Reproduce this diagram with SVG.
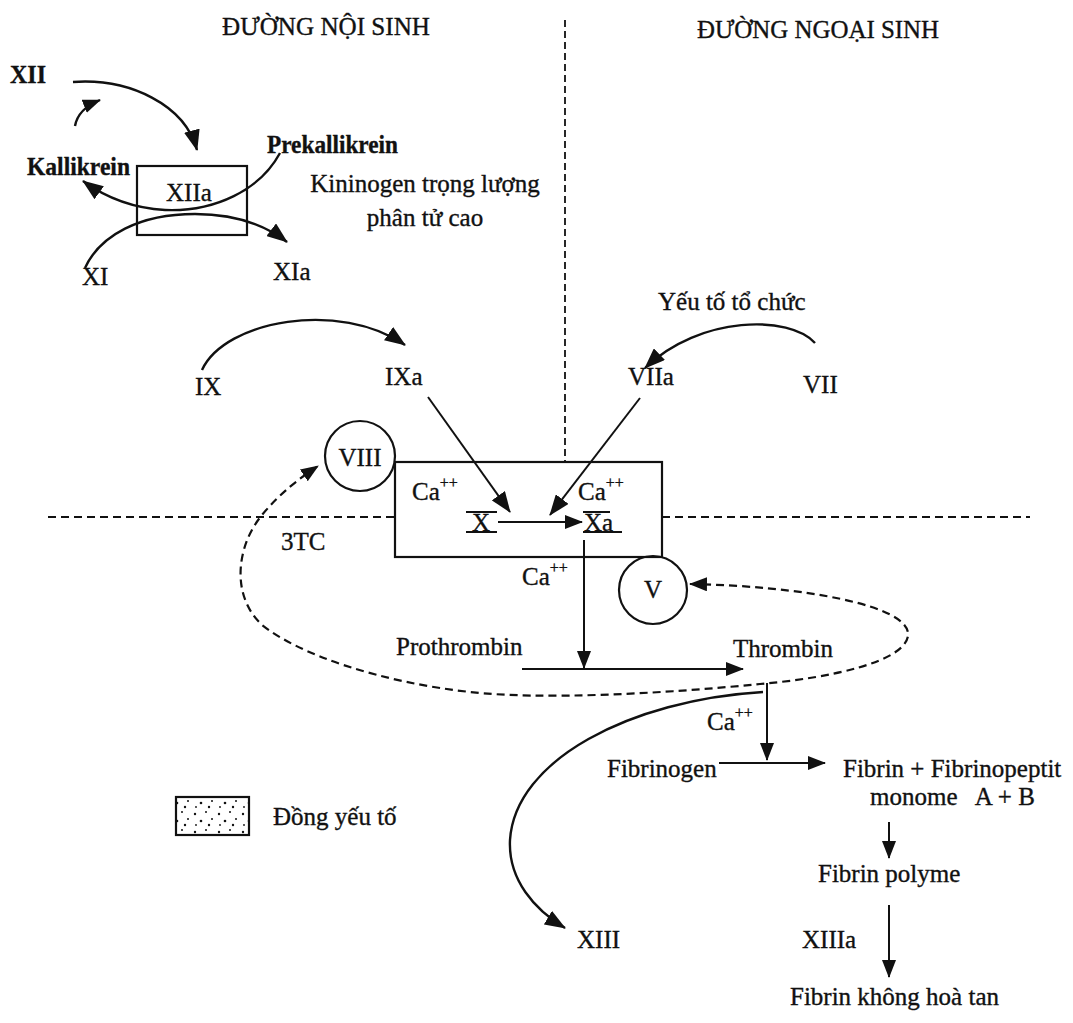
<svg xmlns="http://www.w3.org/2000/svg" width="1073" height="1023" viewBox="0 0 1073 1023">
<style>
text{font-family:"Liberation Serif","Times New Roman",serif;fill:#111;font-size:25px;stroke:#111;stroke-width:0.35}
.b{font-weight:bold}
.sup{font-size:16px}
.ln{stroke:#111;stroke-width:2;fill:none}
.cv{stroke:#111;stroke-width:2.4;fill:none}
.dash{stroke:#111;stroke-width:2.2;fill:none;stroke-dasharray:8 5}
.vdash{stroke:#111;stroke-width:1.8;fill:none;stroke-dasharray:7 4}
.box{stroke:#111;stroke-width:2.2;fill:none}
</style>
<defs>
<marker id="ah" markerUnits="userSpaceOnUse" markerWidth="21" markerHeight="16" refX="20" refY="8" orient="auto-start-reverse"><path d="M0,0 L21,8 L0,16 z" fill="#111"/></marker>
<marker id="ahs" markerUnits="userSpaceOnUse" markerWidth="18" markerHeight="14" refX="17" refY="7" orient="auto-start-reverse"><path d="M0,0 L18,7 L0,14 z" fill="#111"/></marker>
<pattern id="dots" patternUnits="userSpaceOnUse" width="24" height="18">
<circle cx="3" cy="4" r="1.2" fill="#111"/><circle cx="14" cy="2" r="1" fill="#111"/><circle cx="9" cy="11" r="1.3" fill="#111"/><circle cx="20" cy="9" r="1" fill="#111"/><circle cx="17" cy="15" r="1.2" fill="#111"/><circle cx="4" cy="15" r="0.9" fill="#111"/>
</pattern>
</defs>
<rect width="1073" height="1023" fill="#fff"/>

<g id="titles">
<text x="222" y="35" font-size="26" textLength="208" lengthAdjust="spacingAndGlyphs">ĐƯỜNG NỘI SINH</text>
<text x="697" y="38" font-size="26" textLength="242" lengthAdjust="spacingAndGlyphs">ĐƯỜNG NGOẠI SINH</text>
</g>

<g id="dividers">
<line class="vdash" x1="565" y1="20" x2="565" y2="462"/>
<line class="dash" x1="48" y1="517" x2="395" y2="517"/>
<line class="dash" x1="662" y1="517" x2="1030" y2="517"/>
</g>

<g id="connectors">
<path class="cv" d="M73 82 C130 78 185 105 197 150" marker-end="url(#ah)"/>
<path class="cv" d="M75 126 C77 115 85 106 100 100" marker-end="url(#ahs)"/>
<path class="cv" d="M280 153 C260 190 215 212 165 210 C130 208 105 197 83 181" marker-end="url(#ah)"/>
<path class="cv" d="M85 268 C100 235 140 214 195 214 C235 214 265 225 287 242" marker-end="url(#ah)"/>
<path class="cv" d="M202 370 C225 320 340 300 405 345" marker-end="url(#ah)"/>
<path class="cv" d="M815 343 C790 315 700 315 645 368" marker-end="url(#ah)"/>
<line class="ln" x1="428" y1="397" x2="510" y2="512" marker-end="url(#ah)"/>
<line class="ln" x1="640" y1="398" x2="550" y2="515" marker-end="url(#ah)"/>
<line class="ln" x1="498" y1="522" x2="582" y2="522" marker-end="url(#ahs)"/>
<line class="ln" x1="584" y1="540" x2="584" y2="668" marker-end="url(#ahs)"/>
<line class="ln" x1="522" y1="669" x2="743" y2="669" marker-end="url(#ahs)"/>
<line class="ln" x1="767" y1="683" x2="767" y2="760" marker-end="url(#ahs)"/>
<line class="ln" x1="719" y1="763" x2="825" y2="763" marker-end="url(#ahs)"/>
<line class="ln" x1="889" y1="822" x2="889" y2="858" marker-end="url(#ahs)"/>
<line class="ln" x1="889" y1="905" x2="889" y2="977" marker-end="url(#ahs)"/>
<path class="cv" d="M763 692 C630 700 515 760 510 840 C508 880 535 910 565 928" marker-end="url(#ah)"/>
<path class="dash" d="M690 584 C800 586 912 605 908 636 C904 662 830 678 760 684 C660 694 540 700 470 692 C380 682 300 655 262 625 C230 595 237 545 262 515 C280 493 300 478 318 466" marker-start="url(#ahs)" marker-end="url(#ahs)"/>
</g>

<g id="node-XII"><text class="b" x="10" y="83" textLength="36" lengthAdjust="spacingAndGlyphs">XII</text></g>
<g id="node-Kallikrein"><text class="b" x="27" y="175" textLength="103" lengthAdjust="spacingAndGlyphs">Kallikrein</text></g>
<g id="node-Prekallikrein"><text class="b" x="267" y="153" textLength="131" lengthAdjust="spacingAndGlyphs">Prekallikrein</text></g>
<g id="node-XIIa"><rect class="box" x="137" y="166" width="110" height="69"/><text x="166" y="201" font-size="26">XIIa</text></g>
<g id="node-Kininogen"><text x="425" y="192" text-anchor="middle">Kininogen trọng lượng</text><text x="425" y="226" text-anchor="middle">phân tử cao</text></g>
<g id="node-XI"><text x="82" y="285">XI</text></g>
<g id="node-XIa"><text x="273" y="280">XIa</text></g>
<g id="node-IX"><text x="195" y="395">IX</text></g>
<g id="node-IXa"><text x="385" y="385">IXa</text></g>
<g id="node-YTTC"><text x="658" y="310">Yếu tố tổ chức</text></g>
<g id="node-VII"><text x="803" y="393">VII</text></g>
<g id="node-VIIa"><text x="628" y="385">VIIa</text></g>
<g id="node-VIII"><circle class="box" cx="360" cy="456" r="35"/><text x="360" y="466" text-anchor="middle" font-size="26">VIII</text></g>
<g id="node-complex">
<rect class="box" x="395" y="462" width="267" height="95"/>
<text x="412" y="500" font-size="26">Ca<tspan class="sup" dy="-12">++</tspan></text>
<text x="578" y="500" font-size="26">Ca<tspan class="sup" dy="-12">++</tspan></text>
<text x="481" y="531" text-anchor="middle" font-size="26">X</text>
<line class="ln" x1="466" y1="512" x2="497" y2="512"/><line class="ln" x1="466" y1="532" x2="497" y2="532"/>
<text x="584" y="531" font-size="26">Xa</text>
<line class="ln" x1="583" y1="512" x2="610" y2="512"/><line class="ln" x1="583" y1="532" x2="622" y2="532"/>
</g>
<g id="node-3TC"><text x="281" y="550">3TC</text></g>
<g id="node-V"><circle class="box" cx="653" cy="590" r="34"/><text x="653" y="598" text-anchor="middle">V</text></g>
<g id="label-Ca1"><text x="522" y="585">Ca<tspan class="sup" dy="-12">++</tspan></text></g>
<g id="node-Prothrombin"><text x="396" y="655">Prothrombin</text></g>
<g id="node-Thrombin"><text x="733" y="657">Thrombin</text></g>
<g id="label-Ca2"><text x="707" y="730">Ca<tspan class="sup" dy="-12">++</tspan></text></g>
<g id="node-Fibrinogen"><text x="607" y="777">Fibrinogen</text></g>
<g id="node-Fibrin"><text x="843" y="777">Fibrin + Fibrinopeptit</text><text x="870" y="805" xml:space="preserve">monome   A + B</text></g>
<g id="node-FibrinPolyme"><text x="818" y="882">Fibrin polyme</text></g>
<g id="node-XIIIa"><text x="802" y="948">XIIIa</text></g>
<g id="node-FibrinKHT"><text x="790" y="1005">Fibrin không hoà tan</text></g>
<g id="node-XIII"><text x="577" y="948">XIII</text></g>
<g id="legend"><rect x="176" y="797" width="73" height="38" fill="url(#dots)" stroke="#111" stroke-width="2.2"/><text x="273" y="825">Đồng yếu tố</text></g>
</svg>
